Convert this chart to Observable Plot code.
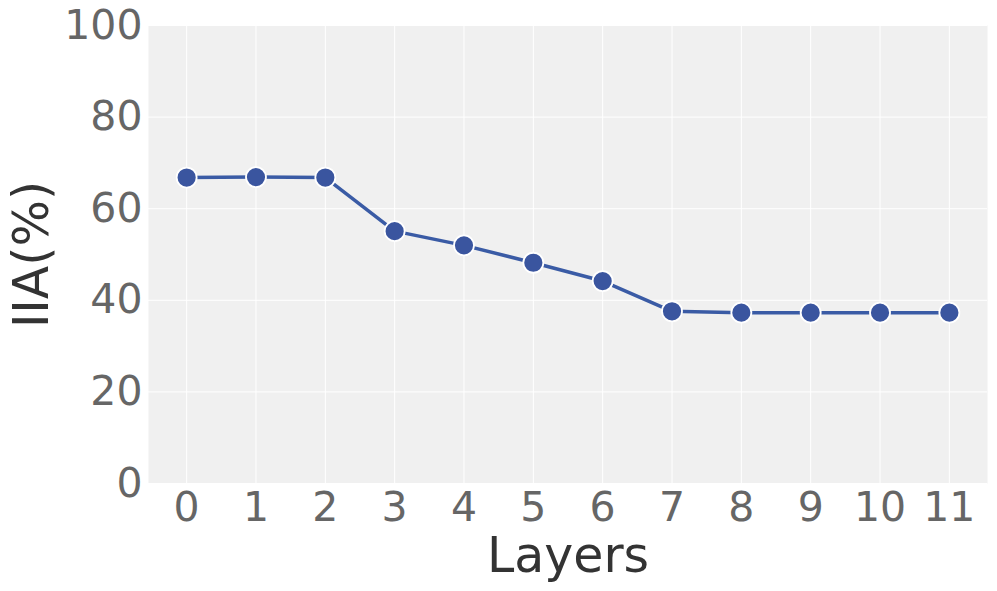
<!DOCTYPE html>
<html><head><meta charset="utf-8">
<script src="https://cdn.jsdelivr.net/npm/d3@7"></script>
<script src="https://cdn.jsdelivr.net/npm/@observablehq/plot@0.6"></script>
<style>body{margin:0;background:#fff;} svg{font-family:"DejaVu Sans",sans-serif;}</style>
</head><body><div id="chart"></div>
<script>
const layers = [0,1,2,3,4,5,6,7,8,9,10,11];
const iia = [66.8,66.9,66.8,55.1,52.0,48.2,44.2,37.6,37.3,37.3,37.3,37.3];
const yTicks = [0,20,40,60,80,100];
const data = layers.map((l,i)=>({layer:l, v:iia[i]}));
const chart = Plot.plot({
  width: 997, height: 591,
  marginLeft: 148, marginRight: 10, marginTop: 25, marginBottom: 108,
  style: {fontFamily: '"DejaVu Sans", sans-serif', background: "#fff"},
  x: {domain: [-0.55, 11.55], ticks: layers, tickFormat: d=>String(d), label: null},
  y: {domain: [0, 100], ticks: yTicks, label: null},
  marks: [
    Plot.frame({fill: "#f0f0f0", stroke: null}),
    Plot.gridX(layers, {stroke: "#fff", strokeOpacity: 1, strokeWidth: 1}),
    Plot.gridY(yTicks, {stroke: "#fff", strokeOpacity: 1, strokeWidth: 1}),
    Plot.axisX(layers, {tickSize: 0, tickPadding: 8, fontSize: 41, fill: "#666", label: null, tickFormat: d=>String(d)}),
    Plot.axisY(yTicks, {tickSize: 0, tickPadding: 6, fontSize: 41, fill: "#666", label: null}),
    Plot.line(data, {x: "layer", y: "v", stroke: "#3a5ba5", strokeWidth: 3.5}),
    Plot.dot(data, {x: "layer", y: "v", r: 10, fill: "#3a559f", stroke: "#fff", strokeWidth: 1.8}),
    Plot.text(["Layers"], {frameAnchor: "bottom", dy: 88, fontSize: 49, fill: "#333", text: d=>d}),
    Plot.text(["IIA(%)"], {frameAnchor: "left", textAnchor: "middle", dx: -116, rotate: -90, fontSize: 49, fill: "#333", text: d=>d})
  ]
});
document.getElementById("chart").appendChild(chart);
</script></body></html>
